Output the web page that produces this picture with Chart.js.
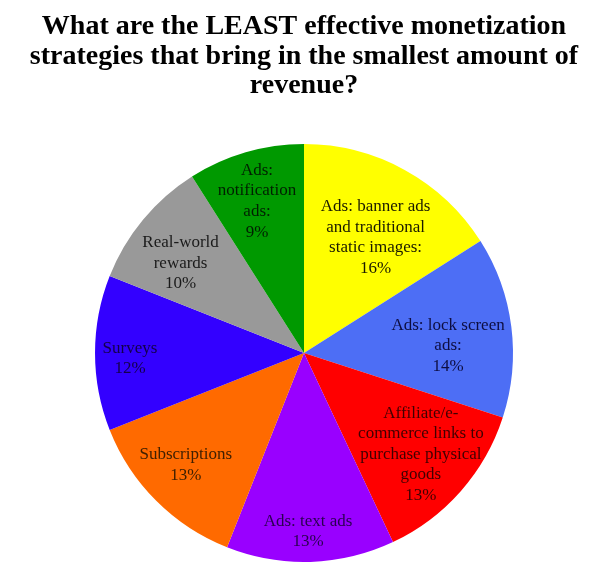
<!DOCTYPE html>
<html>
<head>
<meta charset="utf-8">
<script src="https://cdn.jsdelivr.net/npm/chart.js@4"></script>
<style>
  html, body { margin: 0; padding: 0; background: #fff; }
  #wrap { width: 600px; height: 574px; }
</style>
</head>
<body>
<div id="wrap"><canvas id="chart"></canvas></div>
<script>
// ── Données ──
const categories = [
    'Ads: banner ads and traditional static images',
    'Ads: lock screen ads',
    'Affiliate/e-commerce links to purchase physical goods',
    'Ads: text ads',
    'Subscriptions',
    'Surveys',
    'Real-world rewards',
    'Ads: notification ads'
];
const shares = [16, 14, 13, 13, 13, 12, 10, 9];
const labelLines = [
    ['Ads: banner ads', 'and traditional', 'static images:'],
    ['Ads: lock screen', 'ads:'],
    ['Affiliate/e-', 'commerce links to', 'purchase physical', 'goods'],
    ['Ads: text ads'],
    ['Subscriptions'],
    ['Surveys'],
    ['Real-world', 'rewards'],
    ['Ads:', 'notification', 'ads:']
];
const sliceColors = ['#ffff00', '#4d6ef5', '#ff0000', '#9900ff', '#ff6a00', '#3300ff', '#999999', '#009900'];
const textColors  = ['#1a1a00', '#0d0d40', '#400000', '#2a0050', '#402000', '#14004a', '#1a1a1a', '#002000'];
// placement des étiquettes : fraction du rayon, décalage d'angle (degrés)
const labelRadius = [0.65, 0.69, 0.74, 0.854, 0.78, 0.833, 0.73, 0.76];
const labelShift  = [3, 4.4, -0.5, 0.5, 1.5, -1.8, -3.6, -1];

const titleLines = [
    'What are the LEAST effective monetization',
    'strategies that bring in the smallest amount of',
    'revenue?'
];

// ── Étiquettes dans les parts ──
const sliceLabels = {
    id: 'sliceLabels',
    afterDatasetsDraw(chart) {
        const ctx = chart.ctx;
        const meta = chart.getDatasetMeta(0);
        ctx.save();
        ctx.font = '17px "Liberation Serif", "DejaVu Serif", serif';
        ctx.textAlign = 'center';
        ctx.textBaseline = 'middle';
        const lh = 20.6;
        meta.data.forEach((arc, i) => {
            const mid = (arc.startAngle + arc.endAngle) / 2 + labelShift[i] * Math.PI / 180;
            const r = arc.outerRadius * labelRadius[i];
            const cx = arc.x + Math.cos(mid) * r;
            const cy = arc.y + Math.sin(mid) * r;
            const lines = labelLines[i].concat([shares[i] + '%']);
            const top = cy - (lines.length - 1) * lh / 2;
            ctx.fillStyle = textColors[i];
            lines.forEach((t, k) => ctx.fillText(t, cx, top + k * lh));
        });
        ctx.restore();
    }
};

new Chart(document.getElementById('chart'), {
    type: 'pie',
    data: {
        labels: categories,
        datasets: [{
            data: shares,
            backgroundColor: sliceColors,
            borderWidth: 0
        }]
    },
    options: {
        responsive: true,
        maintainAspectRatio: false,
        animation: false,
        layout: { padding: { left: 8, right: 0, top: 0, bottom: 12 } },
        plugins: {
            legend: { display: false },
            tooltip: { enabled: false },
            title: {
                display: true,
                text: titleLines,
                color: '#000',
                font: { family: '"Liberation Serif", "DejaVu Serif", serif', size: 28, weight: 'bold', lineHeight: 1.06 },
                padding: { top: 12, bottom: 43 }
            }
        }
    },
    plugins: [sliceLabels]
});
</script>
</body>
</html>
